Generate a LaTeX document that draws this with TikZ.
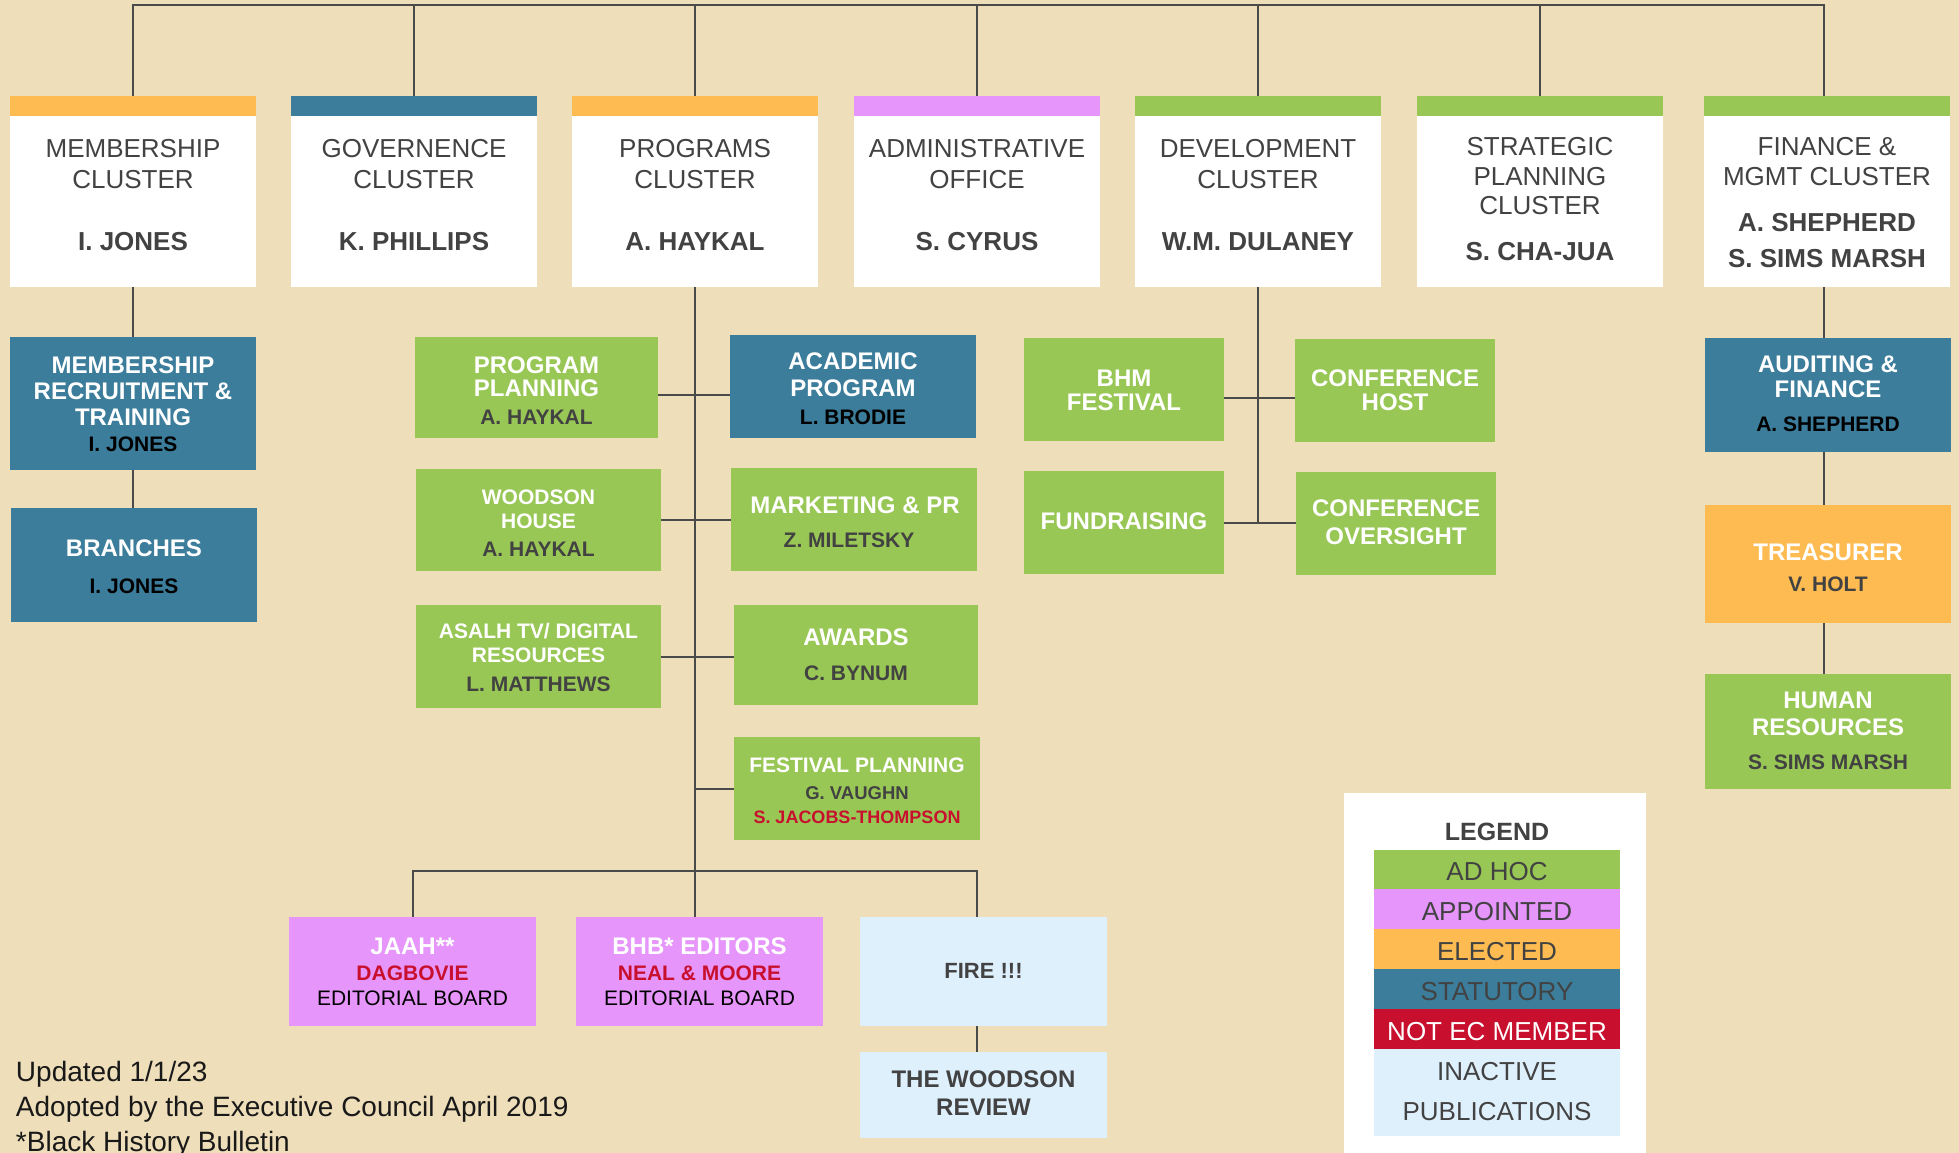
\documentclass[tikz,border=0pt]{standalone}
\usepackage{fontspec}
\setmainfont{Liberation Sans}
\usetikzlibrary{calc}

\definecolor{bgtan}{HTML}{EFDEBA}
\definecolor{cgreen}{HTML}{98C755}
\definecolor{cblue}{HTML}{3B7D9B}
\definecolor{corange}{HTML}{FEBB51}
\definecolor{cpink}{HTML}{E695FB}
\definecolor{cred}{HTML}{C8102E}
\definecolor{clight}{HTML}{DFF0FD}
\definecolor{ink}{HTML}{424242}
\definecolor{linec}{HTML}{4A4A4A}

\newcommand\fs[1]{\fontsize{#1}{#1}\selectfont}

\tikzset{
  panel/.style={rectangle, inner sep=0pt, outer sep=0pt, anchor=north west, draw=none},
  txt/.style={inner sep=0pt, outer sep=0pt, text depth=0pt, align=center},
  head/.style={txt, font=\fs{26}, text=ink, text height=18.6pt},
  headname/.style={txt, font=\fs{26}\bfseries, text=ink, text height=18.6pt},
  wbig/.style={txt, font=\fs{24}\bfseries, text=white, text height=17.2pt},
  wsmall/.style={txt, font=\fs{21}\bfseries, text=white, text height=15pt},
  gname/.style={txt, font=\fs{21}\bfseries, text=ink, text height=15pt},
  kname/.style={txt, font=\fs{21}\bfseries, text=black, text height=15pt},
  rname/.style={txt, font=\fs{21}\bfseries, text=cred, text height=15pt},
  gsmall/.style={txt, font=\fs{18.5}\bfseries, text=ink, text height=13.2pt},
  rsmall/.style={txt, font=\fs{18}\bfseries, text=cred, text height=12.9pt},
  board/.style={txt, font=\fs{21}, text=black, text height=15pt},
  pubtitle/.style={txt, font=\fs{24}\bfseries, text=ink, text height=17.2pt},
  firetitle/.style={txt, font=\fs{22}\bfseries, text=ink, text height=15.8pt},
  legtitle/.style={txt, font=\fs{25}\bfseries, text=ink, text height=17.9pt},
  legtext/.style={txt, font=\fs{26}, text=ink, text height=18.6pt},
  foot/.style={inner sep=0pt, outer sep=0pt, anchor=base west, font=\fs{28}, text=black!90},
  link/.style={draw=linec, line width=2pt},
}

% cluster heading card: white card with a coloured bar on top
\newcommand\cluster[3]{%
  \node[panel, fill=white, minimum width=246, minimum height=191] (#1) at (#3,96) {};
  \fill[#2] (#1.north west) rectangle ([yshift=-20pt]#1.north east);}

\begin{document}
\begin{tikzpicture}[x=1pt, y=-1pt]
\useasboundingbox (0,0) rectangle (1959,1153);
\fill[bgtan] (0,0) rectangle (1959,1153);

% ---------- clusters ----------
\cluster{mem}{corange}{10}
\cluster{gov}{cblue}{291}
\cluster{prg}{corange}{572}
\cluster{adm}{cpink}{854}
\cluster{dev}{cgreen}{1135}
\cluster{str}{cgreen}{1417}
\cluster{fin}{cgreen}{1704}

\node[head] (mem1) at (133,148) {MEMBERSHIP};
\node[head] (mem2) at (133,179) {CLUSTER};
\node[headname] (mem3) at (133,241) {I. JONES};

\node[head] (gov1) at (414,148) {GOVERNENCE};
\node[head] (gov2) at (414,179) {CLUSTER};
\node[headname] (gov3) at (414,241) {K. PHILLIPS};

\node[head] (prg1) at (695,148) {PROGRAMS};
\node[head] (prg2) at (695,179) {CLUSTER};
\node[headname] (prg3) at (695,241) {A. HAYKAL};

\node[head] (adm1) at (977,148) {ADMINISTRATIVE};
\node[head] (adm2) at (977,179) {OFFICE};
\node[headname] (adm3) at (977,241) {S. CYRUS};

\node[head] (dev1) at (1258,148) {DEVELOPMENT};
\node[head] (dev2) at (1258,179) {CLUSTER};
\node[headname] (dev3) at (1258,241) {W.M. DULANEY};

\node[head] (str1) at (1540,146) {STRATEGIC};
\node[head] (str2) at (1540,176) {PLANNING};
\node[head] (str3) at (1540,205) {CLUSTER};
\node[headname] (str4) at (1540,251) {S. CHA-JUA};

\node[head] (fin1) at (1827,146) {FINANCE \&};
\node[head] (fin2) at (1827,176) {MGMT CLUSTER};
\node[headname] (fin3) at (1827,222) {A. SHEPHERD};
\node[headname] (fin4) at (1827,258) {S. SIMS MARSH};

% ---------- membership column ----------
\node[panel, fill=cblue, minimum width=246, minimum height=133] (rec) at (10,337) {};
\node[wbig] (rec1) at (133,365) {MEMBERSHIP};
\node[wbig] (rec2) at (133,391) {RECRUITMENT \&};
\node[wbig] (rec3) at (133,417) {TRAINING};
\node[kname] (rec4) at (133,444) {I. JONES};

\node[panel, fill=cblue, minimum width=246, minimum height=114] (bra) at (11,508) {};
\node[wbig] (bra1) at (134,548) {BRANCHES};
\node[kname] (bra2) at (134,586) {I. JONES};

% ---------- programs column ----------
\node[panel, fill=cgreen, minimum width=243, minimum height=101] (pp) at (415,337) {};
\node[wbig] (pp1) at (536.5,365) {PROGRAM};
\node[wbig] (pp2) at (536.5,388) {PLANNING};
\node[gname] (pp3) at (536.5,417) {A. HAYKAL};

\node[panel, fill=cblue, minimum width=246, minimum height=103] (ap) at (730,335) {};
\node[wbig] (ap1) at (853,361) {ACADEMIC};
\node[wbig] (ap2) at (853,388) {PROGRAM};
\node[kname] (ap3) at (853,417) {L. BRODIE};

\node[panel, fill=cgreen, minimum width=245, minimum height=102] (wh) at (416,469) {};
\node[wsmall] (wh1) at (538.5,497) {WOODSON};
\node[wsmall] (wh2) at (538.5,521) {HOUSE};
\node[gname] (wh3) at (538.5,549) {A. HAYKAL};

\node[panel, fill=cgreen, minimum width=246, minimum height=103] (mk) at (731,468) {};
\node[wbig] (mk1) at (855,505) {MARKETING \& PR};
\node[gname] (mk2) at (849,540) {Z. MILETSKY};

\node[panel, fill=cgreen, minimum width=245, minimum height=103] (tv) at (416,605) {};
\node[wsmall] (tv1) at (538.5,631) {ASALH TV/ DIGITAL};
\node[wsmall] (tv2) at (538.5,655) {RESOURCES};
\node[gname] (tv3) at (538.5,684) {L. MATTHEWS};

\node[panel, fill=cgreen, minimum width=244, minimum height=100] (aw) at (734,605) {};
\node[wbig] (aw1) at (856,637) {AWARDS};
\node[gname] (aw2) at (856,673) {C. BYNUM};

\node[panel, fill=cgreen, minimum width=246, minimum height=103] (fp) at (734,737) {};
\node[wsmall] (fp1) at (857,765) {FESTIVAL PLANNING};
\node[gsmall] (fp2) at (857,793) {G. VAUGHN};
\node[rsmall] (fp3) at (857,817) {S. JACOBS-THOMPSON};

% ---------- publications ----------
\node[panel, fill=cpink, minimum width=247, minimum height=109] (jaah) at (289,917) {};
\node[wbig] (jaah1) at (412.5,946) {JAAH**};
\node[rname] (jaah2) at (412.5,973) {DAGBOVIE};
\node[board] (jaah3) at (412.5,998) {EDITORIAL BOARD};

\node[panel, fill=cpink, minimum width=247, minimum height=109] (bhb) at (576,917) {};
\node[wbig] (bhb1) at (699.5,946) {BHB* EDITORS};
\node[rname] (bhb2) at (699.5,973) {NEAL \& MOORE};
\node[board] (bhb3) at (699.5,998) {EDITORIAL BOARD};

\node[panel, fill=clight, minimum width=247, minimum height=109] (fire) at (860,917) {};
\node[firetitle] (fire1) at (983.5,971) {FIRE !!!};

\node[panel, fill=clight, minimum width=247, minimum height=86] (twr) at (860,1052) {};
\node[pubtitle] (twr1) at (983.5,1079) {THE WOODSON};
\node[pubtitle] (twr2) at (983.5,1107) {REVIEW};

% ---------- development column ----------
\node[panel, fill=cgreen, minimum width=200, minimum height=103] (bhm) at (1024,338) {};
\node[wbig] (bhm1) at (1124,378) {BHM};
\node[wbig] (bhm2) at (1124,402) {FESTIVAL};

\node[panel, fill=cgreen, minimum width=200, minimum height=103] (ch) at (1295,339) {};
\node[wbig] (ch1) at (1395,378) {CONFERENCE};
\node[wbig] (ch2) at (1395,402) {HOST};

\node[panel, fill=cgreen, minimum width=200, minimum height=103] (fr) at (1024,471) {};
\node[wbig] (fr1) at (1124,521) {FUNDRAISING};

\node[panel, fill=cgreen, minimum width=200, minimum height=103] (co) at (1296,472) {};
\node[wbig] (co1) at (1396,508) {CONFERENCE};
\node[wbig] (co2) at (1396,536) {OVERSIGHT};

% ---------- finance column ----------
\node[panel, fill=cblue, minimum width=246, minimum height=114] (au) at (1705,338) {};
\node[wbig] (au1) at (1828,364) {AUDITING \&};
\node[wbig] (au2) at (1828,389) {FINANCE};
\node[kname] (au3) at (1828,424) {A. SHEPHERD};

\node[panel, fill=corange, minimum width=246, minimum height=118] (tr) at (1705,505) {};
\node[wbig] (tr1) at (1828,552) {TREASURER};
\node[gname] (tr2) at (1828,584) {V. HOLT};

\node[panel, fill=cgreen, minimum width=246, minimum height=115] (hr) at (1705,674) {};
\node[wbig] (hr1) at (1828,700) {HUMAN};
\node[wbig] (hr2) at (1828,727) {RESOURCES};
\node[gname] (hr3) at (1828,762) {S. SIMS MARSH};

% ---------- legend ----------
\node[panel, fill=white, minimum width=302, minimum height=360] (leg) at (1344,793) {};
\node[legtitle] (legt) at (1497,832) {LEGEND};
\node[panel, fill=cgreen, minimum width=246, minimum height=39] (lg1) at (1374,850) {};
\node[panel, fill=cpink, minimum width=246, minimum height=40] (lg2) at (1374,889) {};
\node[panel, fill=corange, minimum width=246, minimum height=40] (lg3) at (1374,929) {};
\node[panel, fill=cblue, minimum width=246, minimum height=40] (lg4) at (1374,969) {};
\node[panel, fill=cred, minimum width=246, minimum height=40] (lg5) at (1374,1009) {};
\node[panel, fill=clight, minimum width=246, minimum height=87] (lg6) at (1374,1049) {};
\node[legtext] (lgt1) at (1497,871) {AD HOC};
\node[legtext] (lgt2) at (1497,911) {APPOINTED};
\node[legtext] (lgt3) at (1497,951) {ELECTED};
\node[legtext] (lgt4) at (1497,991) {STATUTORY};
\node[legtext, text=white] (lgt5) at (1497,1031) {NOT EC MEMBER};
\node[legtext] (lgt6) at (1497,1071) {INACTIVE};
\node[legtext] (lgt7) at (1497,1111) {PUBLICATIONS};

% ---------- footnotes ----------
\node[foot] (upd) at (16,1081) {Updated 1/1/23};
\node[foot] (adopt) at (16,1116) {Adopted by the Executive Council April 2019};
\node[foot] (bhbnote) at (16,1151) {*Black History Bulletin};

% ---------- connectors ----------
\coordinate (bus) at (0,5);
\coordinate (fc) at (1824,0);
\draw[link] (mem.north) -- (mem.north |- bus) -- (fc |- bus) -- (fc |- fin.north);
\foreach \n in {gov,prg,adm,dev,str}
  \draw[link] (\n.north) -- (\n.north |- bus);

\draw[link] (mem.south) -- (rec.north);
\draw[link] (rec.south) -- (rec.south |- bra.north);

\draw[link] (prg.south) -- (prg.south |- bhb.north);
\coordinate (r1) at (0,395);
\draw[link] (pp.east |- r1) -- (ap.west |- r1);
\draw[link] (wh.east) -- (mk.west |- wh.east);
\draw[link] (tv.east) -- (aw.west |- tv.east);
\draw[link] (prg.south |- fp.west) -- (fp.west);

\coordinate (pb) at (0,871);
\coordinate (fx) at ([xshift=-7pt]fire.north);
\draw[link] (jaah.north) -- (jaah.north |- pb) -- (fx |- pb) -- (fx);
\draw[link] (fx |- fire.south) -- (fx |- twr.north);

\draw[link] (dev.south) -- (dev.south |- fr.east);
\coordinate (r2) at (0,398);
\draw[link] (bhm.east |- r2) -- (ch.west |- r2);
\draw[link] (fr.east) -- (co.west |- fr.east);

\draw[link] (fc |- fin.south) -- (fc |- au.north);
\draw[link] (fc |- au.south) -- (fc |- tr.north);
\draw[link] (fc |- tr.south) -- (fc |- hr.north);
\end{tikzpicture}
\end{document}
